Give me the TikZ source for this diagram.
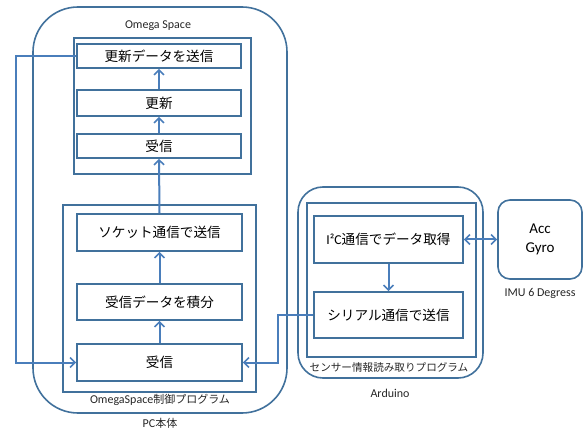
\documentclass[tikz,border=0pt]{standalone}
\usepackage{fontspec}
\setmainfont{Carlito}
\newfontfamily\jp{Noto Sans CJK JP}
\usetikzlibrary{arrows.meta}
\definecolor{bord}{HTML}{41719C}
\definecolor{line}{HTML}{4A7EBB}
\tikzset{
  box/.style={draw=bord, line width=1.6pt, fill=white, inner sep=0pt, font=\jp\fontsize{13.6}{16}\selectfont},
  frame/.style={draw=bord, line width=1.6pt},
  conn/.style={draw=line, line width=2pt, -{Straight Barb[length=5pt,width=10pt,line width=1.6pt]}},
  dconn/.style={draw=line, line width=2pt, {Straight Barb[length=5pt,width=10pt,line width=1.6pt]}-{Straight Barb[length=5pt,width=10pt,line width=1.6pt]}},
  lab/.style={inner sep=0pt, font=\fontsize{12}{14}\selectfont, text=black!85},
}
\begin{document}
\begin{tikzpicture}[x=1pt,y=-1pt]
\useasboundingbox (0,0) rectangle (583,430);
% PC outer
\draw[frame, rounded corners=45pt] (33,7) rectangle (287,413);
\node[lab] (lomega) at (158,26) {Omega Space};
\draw[frame] (74,38) rectangle (251,174);
\draw[frame] (63,205) rectangle (256,392);
\node[lab] (lprog) at (160,400) {OmegaSpace{\jp\fontsize{11}{13}\selectfont 制御プログラム}};
\node[lab] (lpc) at (160,423) {PC{\jp\fontsize{11}{13}\selectfont 本体}};
% Omega boxes
\node[box, minimum width=164pt, minimum height=24pt] (s1) at (159,56) {更新データを送信};
\node[box, minimum width=164pt, minimum height=26pt] (s2) at (159,103) {更新};
\node[box, minimum width=164pt, minimum height=24pt] (s3) at (159,146) {受信};
% program boxes
\node[box, minimum width=165pt, minimum height=37pt] (p1) at (159.5,232.5) {ソケット通信で送信};
\node[box, minimum width=165pt, minimum height=36pt] (p2) at (159.5,302) {受信データを積分};
\node[box, minimum width=165pt, minimum height=37pt] (p3) at (159.5,362.5) {受信};
% Arduino
\draw[frame, rounded corners=25pt] (298,187) rectangle (483,378);
\draw[frame] (307,203) rectangle (476,357);
\node[lab, font=\jp\fontsize{10.6}{12}\selectfont] (lsens) at (389,367) {センサー情報読み取りプログラム};
\node[lab] (lard) at (390,393) {Arduino};
\node[box, minimum width=149pt, minimum height=47pt] (a1) at (388.5,239.5) {{\rmfamily I²C}通信でデータ取得};
\node[box, minimum width=149pt, minimum height=46pt] (a2) at (388.5,315) {シリアル通信で送信};
% IMU
\node[box, rounded corners=12pt, minimum width=84pt, minimum height=79pt, align=center, font=\fontsize{15}{19}\selectfont] (imu) at (540,239.5) {Acc\\Gyro};
\node[lab] (limu) at (540,293) {IMU 6 Degress};
% connectors
\draw[conn] (p3.north) -- (p2.south);
\draw[conn] (p2.north) -- (p1.south);
\draw[conn] (p1.north) -- (s3.south);
\draw[conn] (s3.north) -- (s2.south);
\draw[conn] (s2.north) -- (s1.south);
\coordinate (lc) at (16,56);
\draw[conn] (s1.west) -- (lc) |- (p3.west);
\coordinate (rc) at (278,315);
\draw[conn] (a2.west) -- (rc) |- (p3.east);
\draw[conn] (a1.south) -- (a2.north);
\draw[dconn] (a1.east) -- (imu.west);
\end{tikzpicture}
\end{document}
